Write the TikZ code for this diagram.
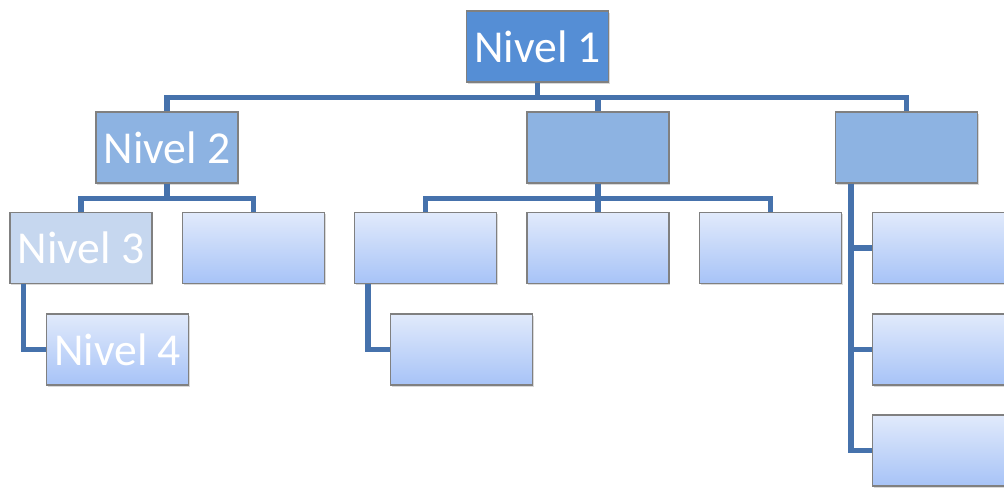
\documentclass[tikz,border=0pt]{standalone}
\usepackage{fontspec}
\setmainfont{Carlito}
\usetikzlibrary{shadows}

\definecolor{topblue}{RGB}{85,142,213}
\definecolor{midblue}{RGB}{141,179,226}
\definecolor{paleblue}{RGB}{198,215,239}
\definecolor{lighttop}{RGB}{225,234,251}
\definecolor{lightbot}{RGB}{167,195,247}
\definecolor{linkblue}{RGB}{70,114,172}

\tikzset{
  box/.style={draw=gray, line width=0.6pt, minimum width=2.84cm, minimum height=1.42cm,
    inner sep=0pt, text=white, font=\fontsize{26}{30}\selectfont,
    drop shadow={opacity=0.3, shadow xshift=0.8pt, shadow yshift=-0.9pt}},
  level one/.style={box, fill=topblue},
  level two/.style={box, fill=midblue},
  level three/.style={box, fill=paleblue},
  level low/.style={box, top color=lighttop, bottom color=lightbot},
  link/.style={draw=linkblue, line width=3.2pt}
}

\begin{document}
\begin{tikzpicture}[x=0.02cm, y=-0.02cm]
  \useasboundingbox (0,0) rectangle (1004,487);
  \clip (0,0) rectangle (1004,487);

  \node[level one] (n1) at (537.5,46.5) {Nivel 1};

  \node[level two] (a) at (167,147.5) {Nivel 2};
  \node[level two] (b) at (598,147.5) {};
  \node[level two] (c) at (906.5,147.5) {};

  \node[level three] (a1) at (81,248) {Nivel 3};
  \node[level low] (a2) at (253.5,248) {};
  \node[level low] (b1) at (425.5,248) {};
  \node[level low] (b2) at (598,248) {};
  \node[level low] (b3) at (770.5,248) {};
  \node[level low] (c1) at (943.5,248) {};

  \node[level low] (a11) at (117.5,349.5) {Nivel 4};
  \node[level low] (b11) at (461.5,349.5) {};
  \node[level low] (c2) at (943.5,349.5) {};
  \node[level low] (c3) at (943.5,450.5) {};

  \foreach \child in {a,b,c}
    \draw[link] (n1.south) -- ++(0,15) -| (\child.north);
  \foreach \child in {a1,a2}
    \draw[link] (a.south) -- ++(0,15) -| (\child.north);
  \foreach \child in {b1,b2,b3}
    \draw[link] (b.south) -- ++(0,15) -| (\child.north);

  \draw[link] ([xshift=0.28cm]a1.south west) |- (a11.west);
  \draw[link] ([xshift=0.28cm]b1.south west) |- (b11.west);
  \foreach \child in {c1,c2,c3}
    \draw[link] ([xshift=0.32cm]c.south west) |- (\child.west);
\end{tikzpicture}
\end{document}
